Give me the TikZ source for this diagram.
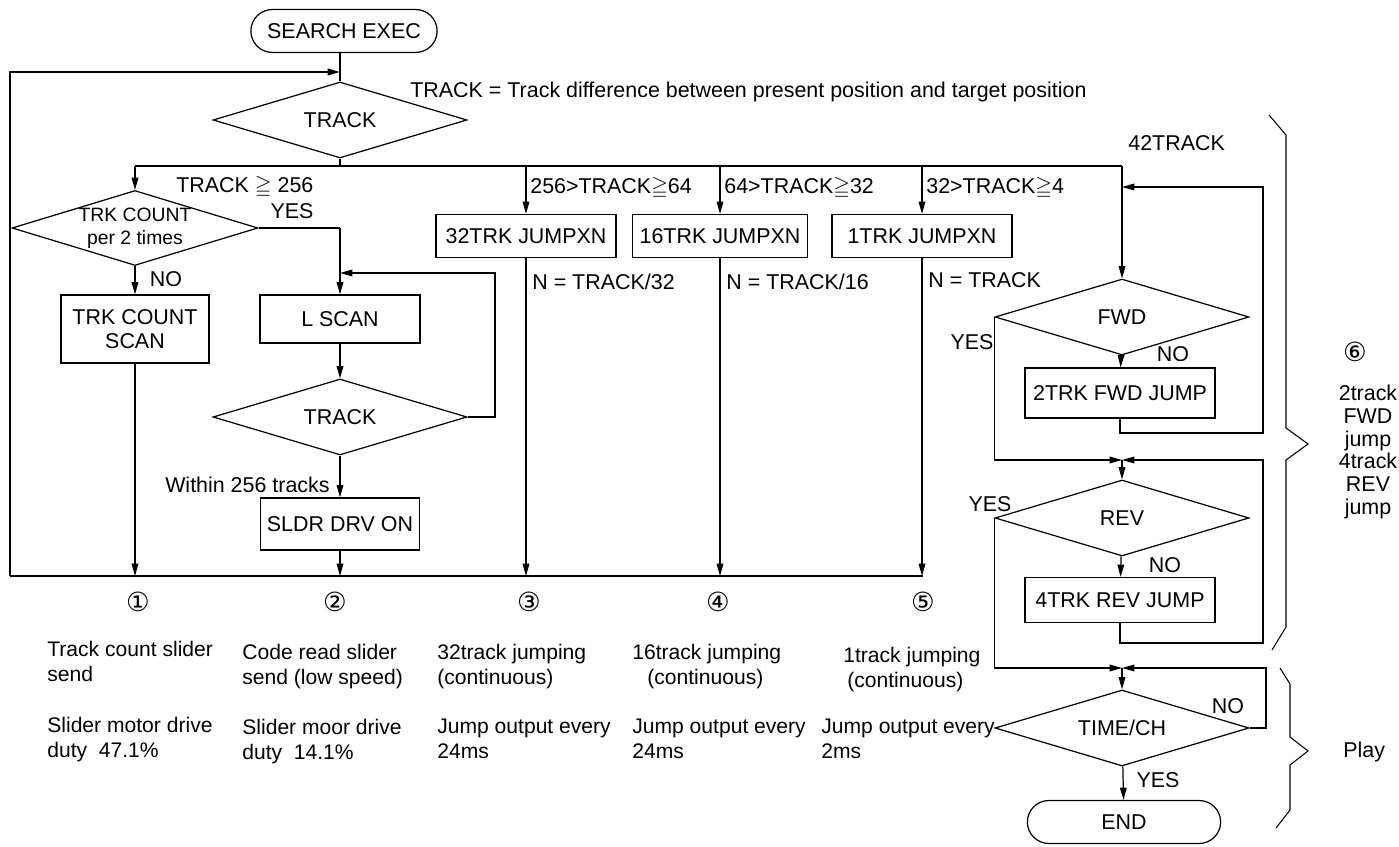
\documentclass[tikz,border=0pt]{standalone}
\usepackage{amssymb}
\usepackage{fontspec}
\setmainfont{Liberation Sans}
\newfontfamily\circfont{DejaVu Sans}
\usetikzlibrary{arrows.meta,shapes.geometric,shapes.misc}

\begin{document}
\begin{tikzpicture}[x=0.02cm,y=-0.02cm,
  font=\fontsize{12.2}{14}\selectfont,
  box/.style={draw,line width=0.7pt,minimum height=0.86cm,align=center,inner sep=2pt},
  dec/.style={draw,line width=0.7pt,diamond,aspect=3.3,minimum width=5.08cm,minimum height=1.52cm,inner sep=0pt,align=center},
  term/.style={draw,line width=0.7pt,rounded rectangle,minimum height=0.86cm,minimum width=3.96cm},
  arr/.style={-{Triangle[length=7pt,width=3.8pt]},line width=0.7pt},
  ln/.style={line width=0.7pt},
  note/.style={anchor=north west,align=left,inner sep=0pt,font=\fontsize{12}{14.2}\selectfont},
  circ/.style={font=\circfont\fontsize{15}{15}\selectfont}]
  \useasboundingbox (0,0) rectangle (1399,847);
  % Start and first decision
  \node[term] (start) at (344,31) {SEARCH EXEC};
  \node[dec] (trk) at (340,120) {TRACK};
  \node[anchor=west,inner sep=0pt] (def) at (410,92) {TRACK = Track difference between present position and target position};
  \coordinate (back) at (340,72);
  \coordinate (lft) at (10,576);
  \coordinate (bot) at (923,576);
  \draw[ln] (start.south -| back) -- (trk.north);
  \draw[arr] (lft) |- (back);
  \draw[ln] (lft) -- (bot);
  % Branch line
  \coordinate (br) at (340,166);
  \coordinate (br1) at (135,166);
  \coordinate (br6) at (1122,166);
  \draw[ln] (trk.south) -- (br);
  \draw[ln] (br1) -- (br6);
  % TRACK >= 256
  \node[dec,minimum width=4.9cm,minimum height=1.5cm,font=\fontsize{11}{13}\selectfont] (cnt) at (135,228) {TRK COUNT\\per 2 times};
  \node[anchor=west,inner sep=0pt] (l256) at (176,187) {TRACK $\geqq$ 256};
  \draw[arr] (br1) -- (cnt.north);
  \node (yes1) at (292,211) {YES};
  \coordinate (yc) at (340,228);
  \draw[ln] (cnt.east) -- (yc);
  \node[box,minimum width=2.96cm,minimum height=1.36cm] (cscan) at (135,329) {TRK COUNT\\SCAN};
  \draw[arr] (cnt.south) -- (cscan.north);
  \node (no1) at (166,279) {NO};
  \node[box,minimum width=3.2cm,minimum height=0.96cm] (lscan) at (340,319) {L SCAN};
  \draw[arr] (yc) -- (lscan.north);
  \node[dec] (trk2) at (340,417) {TRACK};
  \draw[arr] (lscan) -- (trk2);
  \coordinate (rt) at (495,273);
  \coordinate (lin) at (340,273);
  \draw[arr] (trk2.east) -| (rt) -- (lin);
  \node[anchor=east,inner sep=0pt] (w256) at (330,485) {Within 256 tracks};
  \node[box,minimum width=3.18cm,minimum height=1.04cm] (sldr) at (340,524) {SLDR DRV ON};
  \draw[arr] (trk2) -- (sldr);
  \draw[arr] (sldr) -- (sldr |- bot);
  \draw[arr] (cscan) -- (cscan |- bot);
  % Jump branches
  \node[box,minimum width=3.6cm] (j32) at (526,236) {32TRK JUMPXN};
  \node[anchor=west,inner sep=0pt] (l64) at (530,188) {256>TRACK$\geqq$64};
  \node[anchor=west,inner sep=0pt] (n32) at (532,282) {N = TRACK/32};
  \draw[arr] (j32 |- br) -- (j32.north);
  \draw[arr] (j32) -- (j32 |- bot);
  \node[box,minimum width=3.5cm] (j16) at (720,236) {16TRK JUMPXN};
  \node[anchor=west,inner sep=0pt] (l32) at (724,188) {64>TRACK$\geqq$32};
  \node[anchor=west,inner sep=0pt] (n16) at (726,282) {N = TRACK/16};
  \draw[arr] (j16 |- br) -- (j16.north);
  \draw[arr] (j16) -- (j16 |- bot);
  \node[box,minimum width=3.6cm] (j1) at (922,236) {1TRK JUMPXN};
  \node[anchor=west,inner sep=0pt] (l4) at (926,188) {32>TRACK$\geqq$4};
  \node[anchor=west,inner sep=0pt] (n1) at (928,280) {N = TRACK};
  \draw[arr] (j1 |- br) -- (j1.north);
  \draw[arr] (j1) -- (j1 |- bot);
  % Circled numbers
  \node[circ] (c1) at (138,602) {①};
  \node[circ] (c2) at (335,602) {②};
  \node[circ] (c3) at (529,602) {③};
  \node[circ] (c4) at (718,602) {④};
  \node[circ] (c5) at (923,602) {⑤};
  % 42TRACK side
  \node[anchor=west,inner sep=0pt] (l42) at (1128,143) {42TRACK};
  \node[dec] (fwd) at (1122,317) {FWD};
  \draw[arr] (br6) -- (fwd.north);
  \node[box,minimum width=3.8cm,minimum height=1cm] (fj) at (1120,393) {2TRK FWD JUMP};
  \draw[arr] (fwd) -- (fj);
  \node (no2) at (1173,354) {NO};
  \node (yes2) at (972,342) {YES};
  \coordinate (fr) at (1263,433);
  \coordinate (fin) at (1122,187);
  \draw[arr] (fj.south) |- (fr) |- (fin);
  \coordinate (jn1) at (1122,460);
  \draw[arr] (fwd.west) |- (jn1);
  \node[dec] (rev) at (1122,518) {REV};
  \draw[arr] (jn1) -- (rev.north);
  \node[box,minimum width=3.8cm,minimum height=0.9cm] (rj) at (1120,600) {4TRK REV JUMP};
  \draw[arr] (rev) -- (rj);
  \node (yes3) at (990,504) {YES};
  \node (no3) at (1165,565) {NO};
  \coordinate (rr) at (1263,643);
  \draw[arr] (rj.south) |- (rr) |- (jn1);
  \coordinate (jn2) at (1122,668);
  \draw[arr] (rev.west) |- (jn2);
  \node[dec] (tch) at (1122,728) {TIME/CH};
  \draw[arr] (jn2) -- (tch.north);
  \coordinate (tr) at (1266,668);
  \draw[arr] (tch.east) -| (tr) -- (jn2);
  \node (no4) at (1228,706) {NO};
  \node[term,minimum width=4.1cm] (end) at (1124,822) {END};
  \draw[arr] (tch) -- (end);
  \node (yes4) at (1158,780) {YES};
  % Braces
  \draw[line width=0.6pt] (1269,115) -- (1286,135) -- (1286,428) -- (1308,444) -- (1286,460) -- (1286,627) -- (1272,650);
  \draw[line width=0.6pt] (1280,668) -- (1290,684) -- (1290,737) -- (1308,751) -- (1290,765) -- (1290,810) -- (1276,828);
  \node[circ] (c6) at (1355,352) {⑥};
  \node[align=center,font=\fontsize{12.2}{13}\selectfont] (six) at (1368,452) {2track\\FWD\\jump\\4track\\REV\\jump};
  \node[anchor=west,inner sep=0pt] (play) at (1343,752) {Play};
  % Notes
  \node[note] (t1) at (47,641) {Track count slider\\send};
  \node[note] (d1) at (47,717) {Slider motor drive\\duty\ \ 47.1\%};
  \node[note] (t2) at (242,644) {Code read slider\\send (low speed)};
  \node[note] (d2) at (242,719) {Slider moor drive\\duty\ \ 14.1\%};
  \node[note] (t3) at (437,644) {32track jumping\\(continuous)};
  \node[note] (d3) at (437,719) {Jump output every\\24ms};
  \node[note] (t4) at (632,644) {16track jumping\\\hspace*{0.3cm}(continuous)};
  \node[note] (d4) at (632,719) {Jump output every\\24ms};
  \node[note] (t5) at (843,647) {1track jumping\\\hspace*{0.08cm}(continuous)};
  \node[note] (d5) at (821,719) {Jump output every\\2ms};
\end{tikzpicture}
\end{document}
